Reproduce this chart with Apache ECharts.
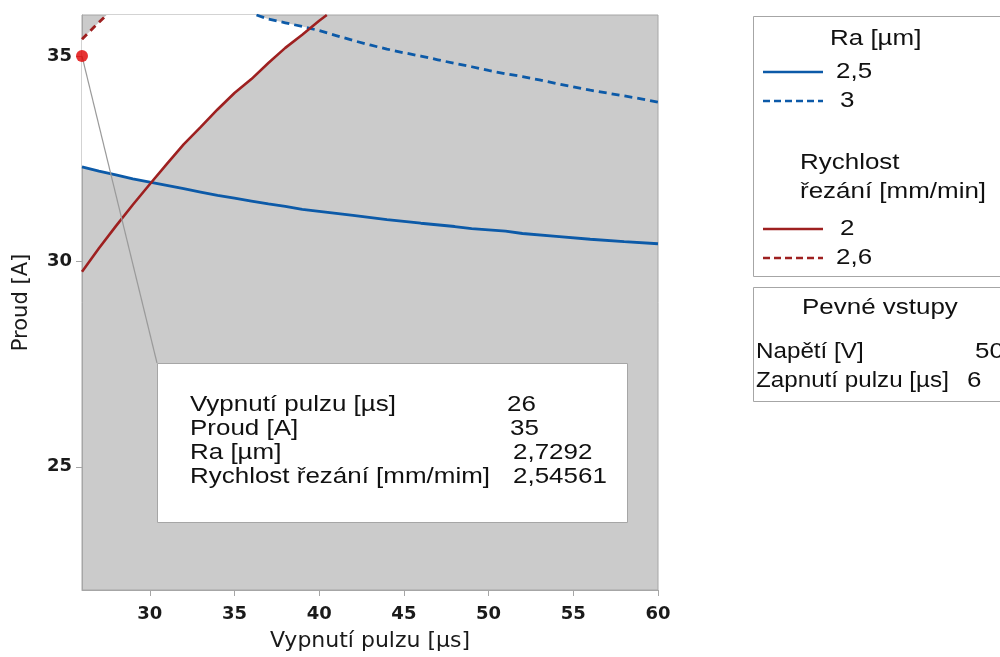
<!DOCTYPE html>
<html>
<head>
<meta charset="utf-8">
<script src="https://cdn.jsdelivr.net/npm/echarts@6/dist/echarts.min.js"></script>
<style>html,body{margin:0;padding:0;background:#fff;}#c{width:1000px;height:657px;}</style>
</head>
<body>
<div id="c"></div>
<script>
// ---- data ----
const xTicks = [30, 35, 40, 45, 50, 55, 60];
const yTicks = [25, 30, 35];
// Ra = 2,5 contour
const ra25 = [[26,32.30],[27,32.20],[28,32.11],[29,32.01],[30,31.93],[31,31.85],[32,31.77],[33,31.69],[34,31.61],[35,31.54],[36,31.47],[37,31.40],[38,31.34],[39,31.27],[40,31.22],[42,31.12],[44,31.02],[46,30.93],[48,30.85],[49,30.80],[50,30.77],[51,30.74],[52,30.68],[54,30.61],[56,30.54],[58,30.48],[60,30.43]];
// Ra = 3 contour
const ra3 = [[36.3,36.0],[37,35.90],[38,35.81],[39,35.72],[40,35.62],[41,35.50],[42,35.38],[43,35.27],[44,35.17],[45,35.08],[46,35.00],[47,34.91],[48,34.82],[49,34.74],[50,34.65],[51,34.57],[52,34.50],[53,34.42],[54,34.33],[55,34.25],[56,34.17],[57,34.10],[58,34.03],[59,33.96],[60,33.88]];
// Rychlost = 2 contour
const v2 = [[26,29.75],[27,30.32],[28,30.86],[29,31.38],[30,31.88],[31,32.37],[32,32.85],[33,33.27],[34,33.70],[35,34.10],[36,34.44],[37,34.83],[38,35.20],[39,35.52],[40,35.86],[40.45,36.0]];
// Rychlost = 2,6 contour
const v26 = [[26,35.41],[26.7,35.70],[27.45,36.0]];
// optimum point
const optPoint = [26, 35];
const infoLabels = ['Vypnutí pulzu [µs]', 'Proud [A]', 'Ra [µm]', 'Rychlost řezání [mm/mim]'];
const infoValues = ['26', '35', '2,7292', '2,54561'];
const raLevels = ['2,5', '3'];
const vLevels = ['2', '2,6'];
const fixedNames = ['Napětí [V]', 'Zapnutí pulzu [µs]'];
const fixedValues = ['50', '6'];
const xMin = 26, xMax = 60, yMin = 22, yMax = 36;

// ---- helpers ----
function interp(line, x) {
  for (let i = 0; i < line.length - 1; i++) {
    const a = line[i], b = line[i+1];
    if (x >= a[0] && x <= b[0]) return a[1] + (b[1]-a[1])*(x-a[0])/(b[0]-a[0]);
  }
  return null;
}
function crossing(l1, l2, lo, hi) {
  let a = lo, b = hi;
  const f = x => interp(l1, x) - interp(l2, x);
  for (let k = 0; k < 60; k++) {
    const m = (a+b)/2;
    if (Math.sign(f(m)) === Math.sign(f(a))) a = m; else b = m;
  }
  const x = (a+b)/2;
  return [x, interp(l1, x)];
}
const cA = crossing(ra25, v2, 26, 35);
const cB = crossing(ra3, v2, 36.3, 40.45);
// feasible (white) region polygon
const poly = [];
poly.push([xMin, ra25[0][1]]);
ra25.forEach(p => { if (p[0] > xMin && p[0] < cA[0]) poly.push(p); });
poly.push(cA);
v2.forEach(p => { if (p[0] > cA[0] && p[0] < cB[0]) poly.push(p); });
poly.push(cB);
ra3.slice().reverse().forEach(p => { if (p[0] < cB[0]) poly.push(p); });
v26.slice().reverse().forEach(p => poly.push(p));

const BLUE = '#0c5aa8', RED = '#9e2020';
const chart = echarts.init(document.getElementById('c'), null, {renderer: 'canvas'});
const axisFont = {fontFamily: 'DejaVu Sans', fontSize: 18, fontWeight: 'bold', color: '#1a1a1a'};
const option = {
  animation: false,
  grid: {left: 82, top: 15, right: 342, bottom: 65, show: true, backgroundColor: '#cbcbcb', borderColor: '#a6a6a6', borderWidth: 1},
  xAxis: {
    type: 'value', min: xMin, max: xMax,
    name: 'Vypnutí pulzu [µs]', nameLocation: 'middle', nameGap: 40,
    nameTextStyle: {fontFamily: 'DejaVu Sans', fontSize: 22, color: '#1a1a1a'},
    axisLine: {show: true, lineStyle: {color: '#a6a6a6'}},
    axisTick: {show: true, length: 6, lineStyle: {color: '#a6a6a6'}, customValues: xTicks},
    axisLabel: Object.assign({customValues: xTicks, margin: 15}, axisFont),
    splitLine: {show: false}
  },
  yAxis: {
    type: 'value', min: yMin, max: yMax,
    name: 'Proud [A]', nameLocation: 'middle', nameGap: 50, nameRotate: 90,
    nameTextStyle: {fontFamily: 'DejaVu Sans', fontSize: 21, color: '#1a1a1a'},
    axisLine: {show: true, lineStyle: {color: '#a6a6a6'}},
    axisTick: {show: true, length: 6, lineStyle: {color: '#a6a6a6'}, customValues: yTicks},
    axisLabel: Object.assign({customValues: yTicks, margin: 10}, axisFont),
    splitLine: {show: false}
  },
  series: [
    {type: 'custom', z: 1, silent: true, clip: true, data: [[xMin, yMin]],
     renderItem: (params, api) => ({type: 'polygon', shape: {points: poly.map(p => api.coord(p))}, style: {fill: '#ffffff'}})},
    {type: 'line', data: ra25, showSymbol: false, lineStyle: {color: BLUE, width: 2.8}, z: 3},
    {type: 'line', data: ra3, showSymbol: false, lineStyle: {color: BLUE, width: 2.8, type: [8, 5]}, z: 3},
    {type: 'line', data: v2, showSymbol: false, lineStyle: {color: RED, width: 2.6}, z: 3},
    {type: 'line', data: v26, showSymbol: false, lineStyle: {color: RED, width: 2.8, type: [7, 5]}, z: 3},
    {type: 'scatter', data: [optPoint], symbolSize: 12, itemStyle: {color: '#e00000'}, z: 6, clip: false}
  ]
};
chart.setOption(option);

// annotation and legends (text slightly widened like the original)
const SX = 1.18;
const p0 = chart.convertToPixel({gridIndex: 0}, optPoint);
const txt = (x, y, s, sx) => ({type: 'text', x: x, y: y, scaleX: sx || SX, z: 20,
  style: {text: s, fontFamily: 'Liberation Sans, Arial', fontSize: 22, fill: '#111', textVerticalAlign: 'middle'}});
const g = [];
g.push({type: 'line', z: 5, shape: {x1: p0[0], y1: p0[1], x2: 157, y2: 363}, style: {stroke: '#9a9a9a', lineWidth: 1.2}});
g.push({type: 'rect', z: 10, shape: {x: 157.5, y: 363.5, width: 470, height: 159}, style: {fill: '#fff', stroke: '#a6a6a6', lineWidth: 1}});
const valX = [507, 510, 513, 513];
infoLabels.forEach((s, i) => { g.push(txt(190, 405 + i*24, s)); g.push(txt(valX[i], 405 + i*24, infoValues[i])); });
// legend box 1
g.push({type: 'rect', z: 10, shape: {x: 753.5, y: 16.5, width: 260, height: 260}, style: {fill: '#fff', stroke: '#a6a6a6', lineWidth: 1}});
g.push(txt(830, 39, 'Ra [µm]'));
raLevels.forEach((s, i) => {
  const y = 72 + i*29;
  g.push({type: 'line', z: 20, shape: {x1: 763, y1: y, x2: 823, y2: y}, style: {stroke: BLUE, lineWidth: 2.6, lineDash: i ? [7, 4] : null}});
  g.push(txt(i ? 840 : 836, y, s));
});
g.push(txt(800, 163, 'Rychlost'));
g.push(txt(800, 192, 'řezání [mm/min]'));
vLevels.forEach((s, i) => {
  const y = 229 + i*29;
  g.push({type: 'line', z: 20, shape: {x1: 763, y1: y, x2: 823, y2: y}, style: {stroke: RED, lineWidth: 2.6, lineDash: i ? [7, 4] : null}});
  g.push(txt(i ? 836 : 840, y, s));
});
// legend box 2
g.push({type: 'rect', z: 10, shape: {x: 753.5, y: 287.5, width: 260, height: 114}, style: {fill: '#fff', stroke: '#a6a6a6', lineWidth: 1}});
g.push(txt(802, 308, 'Pevné vstupy'));
fixedNames.forEach((s, i) => {
  g.push(txt(756, 352 + i*29, s, 1.1));
  g.push(txt(i ? 967 : 975, 352 + i*29, fixedValues[i]));
});
chart.setOption({graphic: g});
</script>
</body>
</html>
